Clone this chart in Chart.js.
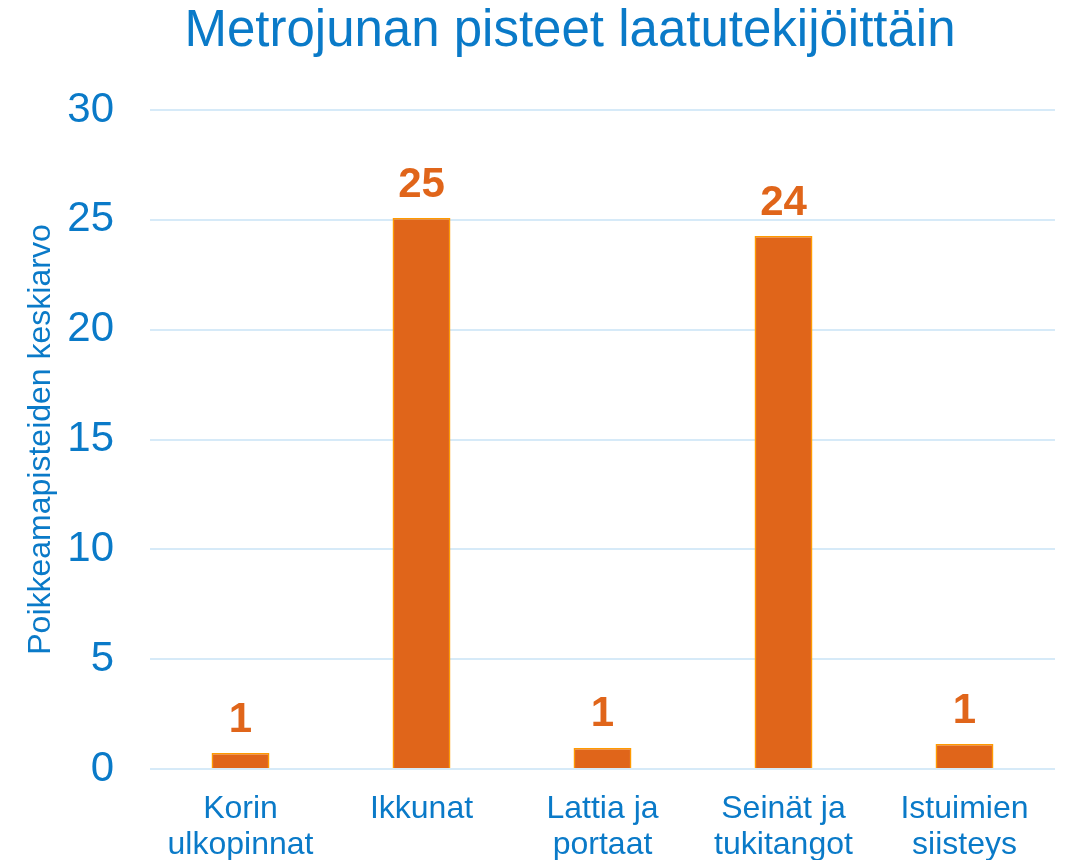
<!DOCTYPE html>
<html>
<head>
<meta charset="utf-8">
<script src="https://cdn.jsdelivr.net/npm/chart.js@4/dist/chart.umd.min.js"></script>
<style>
  html, body { margin: 0; padding: 0; background: #fff; }
  #wrap { width: 1066px; height: 860px; }
</style>
</head>
<body>
<div id="wrap"><canvas id="metroChart" width="1066" height="860"></canvas></div>
<script>
// Data
const categories = [['Korin', 'ulkopinnat'], 'Ikkunat', ['Lattia ja', 'portaat'], ['Seinät ja', 'tukitangot'], ['Istuimien', 'siisteys']];
const values = [0.73, 25.08, 0.96, 24.26, 1.14];
const yTicks = [0, 5, 10, 15, 20, 25, 30];
const titleText = 'Metrojunan pisteet laatutekijöittäin';

const blue = '#0A7AC8';
const orange = '#E0651A';
const fontFamily = '"Liberation Sans", Arial, sans-serif';

// Value labels above bars + title centred over the plot
const barLabels = {
    id: 'barLabels',
    afterDraw(chart) {
        const ctx = chart.ctx;
        const meta = chart.getDatasetMeta(0);
        ctx.save();
        ctx.font = 'bold 42px ' + fontFamily;
        ctx.fillStyle = orange;
        ctx.textAlign = 'center';
        ctx.textBaseline = 'middle';
        meta.data.forEach(function(bar, i) {
            ctx.fillText(Math.round(values[i]).toString(), bar.x, bar.y - 33);
        });
        ctx.font = '51px ' + fontFamily;
        ctx.fillStyle = blue;
        ctx.textBaseline = 'alphabetic';
        ctx.fillText(titleText, 570, 46);
        ctx.restore();
    }
};

const config = {
    type: 'bar',
    data: {
        labels: categories,
        datasets: [{
            label: 'Poikkeamapisteet',
            data: values,
            backgroundColor: orange,
            borderColor: '#FF9A00',
            borderWidth: 1.5,
            barPercentage: 0.32,
            categoryPercentage: 1
        }]
    },
    options: {
        responsive: false,
        animation: false,
        layout: { padding: { top: 110, right: 11, left: 0, bottom: 0 } },
        plugins: {
            legend: { display: false },
            tooltip: { enabled: false },
            title: { display: false }
        },
        scales: {
            x: {
                afterFit(axis) { axis.height = 91; },
                grid: { display: false, drawTicks: false },
                border: { display: false },
                ticks: {
                    color: blue,
                    font: { family: fontFamily, size: 32, lineHeight: 1.13 },
                    padding: 22,
                    maxRotation: 0,
                    autoSkip: false
                }
            },
            y: {
                min: 0,
                max: 30,
                afterBuildTicks(axis) {
                    axis.ticks = yTicks.map(function(v) { return { value: v }; });
                },
                afterFit(axis) { axis.width = 150; },
                grid: { color: '#D6EAF8', lineWidth: 2, drawTicks: false },
                border: { display: false },
                ticks: {
                    color: blue,
                    font: { family: fontFamily, size: 42 },
                    padding: 36
                },
                title: {
                    display: true,
                    text: 'Poikkeamapisteiden keskiarvo',
                    color: blue,
                    font: { family: fontFamily, size: 32 },
                    padding: { top: 22, bottom: 0 }
                }
            }
        }
    },
    plugins: [barLabels]
};

const metroChart = document.getElementById('metroChart').getContext('2d');
new Chart(metroChart, config);
</script>
</body>
</html>
